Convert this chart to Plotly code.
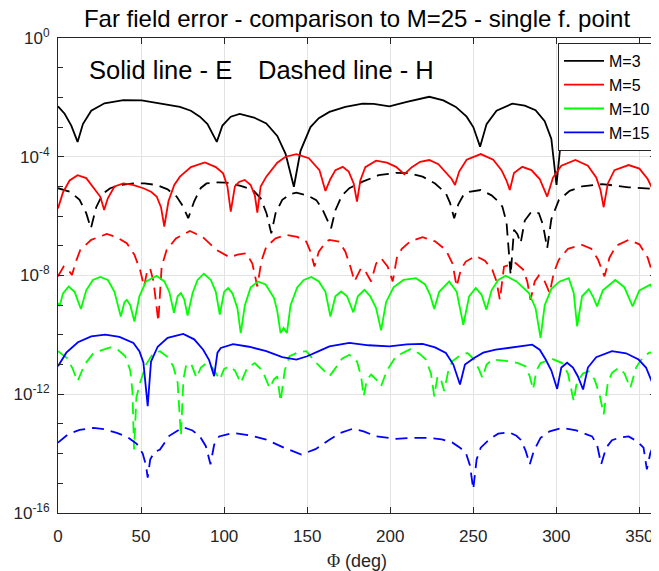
import plotly.graph_objects as go

# ---------------- data (y stored as log10 exponents) ----------------
phi_m3_E = [0, 4, 8, 11.8, 15, 20, 28, 39.4, 50.4, 62, 73.4, 80, 85.4, 90, 95.6, 99, 104, 109.4, 118, 125.4,
            132, 137, 142, 146, 152, 157, 163.4, 173, 183.4, 190, 199.5, 210, 223.5, 232, 239.5, 246, 250, 254.1,
            258, 264, 273.5, 281, 287.5, 293, 297, 300.1, 303, 310, 320, 335, 350, 360]
exp_m3_E = [-2.30, -2.55, -2.95, -3.50, -2.90, -2.45, -2.20, -2.09, -2.10, -2.20, -2.32, -2.45, -2.65, -2.90,
            -3.50, -2.95, -2.65, -2.56, -2.68, -2.88, -3.30, -3.90, -5.01, -3.80, -3.00, -2.70, -2.49, -2.32,
            -2.21, -2.22, -2.30, -2.15, -1.98, -2.10, -2.32, -2.65, -3.00, -3.66, -2.90, -2.45, -2.21, -2.28,
            -2.43, -2.80, -3.40, -4.95, -3.30, -2.60, -2.35, -2.25, -2.30, -2.35]

phi_m3_H = [0, 7.4, 13, 17, 19.8, 23, 27, 31.4, 38, 45.4, 52, 59.4, 66, 71.4, 75, 78.4, 82, 86, 89.4, 95,
            101.4, 110, 117.4, 122, 125.5, 128.4, 131, 135, 140, 143.5, 150, 155.5, 159, 162.4, 164.4, 167, 171,
            175.4, 183.4, 193, 203.5, 211, 219.5, 227, 233.5, 236, 238.5, 241, 244, 247.5, 254.5, 261, 265,
            267.5, 270, 272.5, 274.5, 276.5, 278.5, 281, 285, 289.5, 292, 294.5, 297, 301.5, 308, 315.5, 327.5,
            335, 343.5, 360]
exp_m3_H = [-5.06, -5.18, -5.45, -5.90, -6.41, -5.70, -5.25, -5.06, -4.95, -4.90, -4.90, -4.95, -5.10, -5.34,
            -5.65, -6.07, -5.50, -5.05, -4.90, -4.86, -4.87, -4.98, -5.12, -5.40, -5.90, -6.58, -5.90, -5.45,
            -5.25, -5.21, -5.30, -5.46, -5.75, -6.18, -6.41, -5.80, -5.30, -5.06, -4.84, -4.62, -4.54, -4.55,
            -4.67, -4.90, -5.23, -5.55, -6.07, -5.60, -5.30, -5.18, -5.12, -5.30, -5.50, -5.68, -6.20, -7.98,
            -6.46, -6.60, -6.91, -6.15, -5.85, -5.90, -6.30, -7.08, -6.10, -5.46, -5.15, -5.00, -4.92, -4.97,
            -5.03, -5.09]

phi_m5_E = [0, 3, 7, 11.8, 17, 22, 25.5, 27.8, 30, 34, 39.4, 45, 51.4, 56, 59.4, 62, 64, 66.5, 70, 73.4, 80,
            88.4, 95, 99.4, 102, 104, 106.5, 109, 112.4, 116, 118.5, 120, 122, 125.4, 132, 137, 143.5, 151,
            157.4, 161, 164, 167, 171.4, 175, 178, 180, 182, 185, 191.5, 198, 203.5, 208.5, 213, 218, 223.5,
            229, 234, 237, 239, 241.5, 246, 254.5, 262, 267, 270, 272, 274.5, 279.5, 285, 290, 294.5, 298, 303,
            311.5, 319, 324, 326.5, 328.5, 331, 335, 343.5, 350, 355, 358, 360]
exp_m5_E = [-5.74, -5.20, -4.80, -4.62, -4.72, -5.10, -5.35, -5.79, -5.40, -5.00, -4.90, -4.95, -5.06, -5.18,
            -5.34, -5.70, -6.35, -5.50, -4.95, -4.67, -4.35, -4.19, -4.35, -4.56, -5.00, -5.85, -5.00, -4.85,
            -4.78, -4.95, -5.30, -5.88, -5.00, -4.67, -4.20, -4.00, -3.91, -4.05, -4.45, -5.15, -4.75, -4.45,
            -4.34, -4.50, -4.90, -5.51, -4.80, -4.35, -4.13, -4.20, -4.34, -4.59, -4.35, -4.17, -4.11, -4.25,
            -4.55, -4.75, -4.95, -4.50, -4.10, -3.91, -4.10, -4.45, -4.80, -5.12, -4.55, -4.34, -4.45, -4.75,
            -5.34, -4.70, -4.30, -4.11, -4.30, -4.70, -5.10, -5.70, -4.90, -4.45, -4.28, -4.40, -4.75, -5.10,
            -5.68]

phi_m5_H = [0, 3.4, 6, 8.4, 11, 13.4, 20, 29.4, 35, 41.4, 46, 49.4, 51.8, 53.5, 55.4, 57.5, 60.4, 62.4, 65.4,
            71, 79.4, 87, 95.4, 103.4, 108, 113.4, 117, 120, 122.5, 125.4, 131, 137.5, 144, 149.5, 152, 154.4,
            157, 161.4, 163.4, 169.4, 173, 176, 178.5, 182.5, 185.5, 188.5, 191.5, 194.5, 198.5, 201.5, 204,
            207, 212, 219.5, 227, 233.5, 237.5, 240, 242.5, 245.5, 251.5, 257, 261.5, 264, 266, 268.5, 275.5,
            280, 282.5, 284.5, 287, 289.5, 293, 296, 298.5, 301.5, 307, 315.5, 321, 325, 329, 332, 336, 343.5,
            350, 355, 358.5, 360]
exp_m5_H = [-8.03, -7.70, -7.80, -7.98, -7.50, -7.14, -6.80, -6.60, -6.70, -6.91, -7.30, -7.81, -8.37, -7.90,
            -7.75, -8.20, -9.55, -7.70, -7.14, -6.75, -6.50, -6.70, -7.14, -7.39, -7.30, -7.25, -7.60, -8.37,
            -7.50, -7.03, -6.75, -6.63, -6.70, -6.86, -7.20, -7.70, -7.20, -6.86, -6.80, -6.86, -7.20, -7.70,
            -8.20, -7.75, -7.90, -8.20, -7.60, -7.42, -7.70, -8.20, -7.40, -7.10, -6.85, -6.71, -6.85, -7.14,
            -7.60, -8.37, -7.80, -7.53, -7.34, -7.50, -7.81, -8.20, -8.82, -7.70, -7.58, -7.80, -8.20, -8.82,
            -8.20, -8.00, -8.20, -8.59, -7.90, -7.47, -7.10, -6.97, -7.10, -7.45, -8.03, -7.40, -7.00, -6.80,
            -6.95, -7.40, -8.03, -7.70]

phi_m10_E = [0, 1, 3, 6.4, 10, 13.8, 17, 21, 25.4, 30, 34, 37.8, 40, 41.4, 43.5, 46, 49, 53, 59.4, 64, 67,
             69.8, 72, 74, 76, 78, 81, 84, 87.8, 92, 95, 97.4, 100, 102.4, 105, 108, 110, 112.5, 116, 120.4, 125,
             130, 132, 134, 135.8, 137.8, 140, 144, 148, 152.5, 157, 161, 164, 167, 170.5, 174, 177.8, 180.5,
             184.5, 188, 191.5, 194.5, 197.5, 202, 208, 215.5, 221, 224, 226.5, 229.5, 235.5, 240, 244, 247.5,
             251.5, 255, 257.9, 261, 265, 269.5, 276, 283.5, 287.5, 290.5, 293, 297, 302, 307.5, 310.5, 312.5,
             315.5, 319.5, 322, 324.5, 328, 335.5, 341, 345.9, 350, 356.5, 360]
exp_m10_E = [-8.93, -9.03, -8.60, -8.37, -8.55, -9.13, -8.50, -8.15, -8.05, -8.15, -8.55, -9.38, -8.90, -8.82,
             -9.00, -9.55, -8.70, -8.20, -8.01, -8.20, -8.55, -9.26, -8.70, -8.59, -8.80, -9.35, -8.60, -8.15,
             -7.94, -8.15, -8.55, -9.32, -8.55, -8.42, -8.60, -9.10, -9.94, -9.00, -8.40, -8.20, -8.30, -8.75,
             -9.20, -9.94, -9.77, -9.94, -9.00, -8.40, -8.15, -8.05, -8.20, -8.55, -9.38, -8.70, -8.54, -8.70,
             -9.24, -8.70, -8.48, -8.70, -9.10, -9.85, -8.90, -8.40, -8.15, -8.09, -8.30, -8.65, -9.13, -8.55,
             -8.20, -8.55, -9.66, -8.70, -8.42, -8.65, -9.15, -8.50, -8.15, -8.01, -8.20, -8.59, -9.10, -10.10,
             -9.00, -8.45, -8.20, -8.09, -8.60, -9.71, -8.70, -8.46, -8.70, -9.04, -8.50, -8.15, -8.40, -9.04,
             -8.50, -8.31, -8.59]

phi_m10_H = [0, 5.4, 8.5, 11.8, 16, 21.4, 31.4, 36, 40.4, 43.5, 44.8, 45.8, 47.2, 49.4, 53, 57.4, 61.4, 66,
             69.4, 72, 74, 75.5, 77, 80, 83.4, 86, 89.4, 93, 97.4, 100, 103.4, 106.5, 110, 114, 118.4, 123,
             127.4, 130, 132, 134, 136.5, 139.4, 144, 149.5, 155.5, 160, 163.4, 166.4, 171, 175.4, 180, 182.5,
             184, 186, 188.5, 191.5, 194.5, 198, 203.5, 212.5, 218, 221.5, 224.5, 226.5, 228.5, 230.5, 232.5,
             235, 237.5, 242, 246.5, 250, 253.5, 255.5, 258, 261.5, 266, 271.5, 277, 281.5, 284, 286, 288, 290.5,
             297.5, 303.5, 307, 309, 310.5, 312, 313.5, 316, 319.5, 323, 326, 328.5, 331, 333.5, 337.5, 341,
             344.5, 348, 352.5, 356, 360]
exp_m10_H = [-10.55, -10.78, -11.10, -11.56, -11.00, -10.61, -10.42, -10.50, -10.71, -11.20, -11.90, -13.86,
             -12.10, -11.62, -11.00, -10.61, -10.55, -10.75, -11.06, -11.60, -13.41, -11.50, -11.06, -10.95,
             -11.45, -11.10, -10.95, -11.10, -11.51, -11.15, -11.06, -11.20, -11.62, -11.10, -10.95, -11.20,
             -11.79, -11.50, -11.40, -12.24, -11.20, -10.72, -10.60, -10.55, -10.95, -11.20, -11.39, -11.17,
             -10.80, -10.67, -10.90, -11.40, -12.07, -11.50, -11.34, -11.50, -11.73, -11.20, -10.72, -10.47,
             -10.65, -10.83, -11.30, -12.07, -11.39, -11.50, -11.89, -11.20, -10.88, -10.70, -10.61, -10.80,
             -11.17, -11.45, -11.00, -10.83, -10.85, -10.89, -10.95, -11.06, -11.40, -11.84, -11.20, -10.95,
             -10.81, -10.95, -11.30, -11.80, -12.24, -11.70, -11.51, -11.30, -11.23, -11.50, -12.00, -12.68,
             -11.60, -11.28, -11.11, -11.30, -11.79, -11.10, -10.72, -10.60, -10.55]

phi_m15_E = [0, 5, 12, 20, 28.4, 37, 45.4, 49, 51.4, 54, 56, 60, 66, 75.4, 82, 87.4, 91, 94, 96, 98, 105.4,
             115, 125.4, 135, 143.5, 150, 157, 163.4, 175.4, 187, 199.5, 210, 219.5, 227, 233.5, 238, 242, 245,
             250.5, 256, 263.5, 275, 285.5, 290, 293.5, 297, 300.5, 303, 306.5, 310, 313, 316.1, 319, 324,
             333.5, 342, 349.5, 354, 358.5, 360]
exp_m15_E = [-11.06, -10.60, -10.25, -10.05, -9.99, -10.07, -10.27, -10.55, -10.93, -12.40, -10.90, -10.40,
             -10.10, -9.97, -10.15, -10.50, -10.85, -11.39, -10.60, -10.44, -10.31, -10.40, -10.55, -10.75,
             -10.83, -10.72, -10.55, -10.39, -10.27, -10.35, -10.39, -10.32, -10.30, -10.42, -10.61, -11.00,
             -11.67, -11.00, -10.78, -10.60, -10.50, -10.42, -10.33, -10.50, -10.82, -11.20, -11.82, -11.10,
             -10.94, -11.10, -11.40, -11.84, -11.10, -10.75, -10.55, -10.62, -10.83, -11.10, -11.71, -11.10]

phi_m15_H = [0, 6, 13, 21.4, 28, 35.4, 42, 47.4, 51, 53, 54, 55.5, 58, 61.4, 67, 75.4, 81, 85.4, 89, 91.8, 94,
             97, 105.4, 115, 125.4, 136, 146.5, 155, 163.4, 170, 177.5, 184, 191.5, 203.5, 213, 223.5, 231,
             237.5, 242, 245.5, 248, 250, 252, 254.5, 260, 265, 271.5, 276, 278.5, 281.5, 284, 286.5, 290.5,
             296, 303.5, 312, 321.5, 324.5, 327, 330, 333.5, 337.5, 343.5, 349, 352.5, 354.5, 356.5, 358.5, 360]
exp_m15_H = [-13.63, -13.35, -13.20, -13.13, -13.18, -13.30, -13.45, -13.67, -14.00, -14.40, -14.81, -14.20,
             -13.95, -13.86, -13.40, -13.11, -13.22, -13.42, -13.75, -14.36, -13.70, -13.42, -13.30, -13.38,
             -13.53, -13.80, -14.03, -13.85, -13.53, -13.30, -13.16, -13.25, -13.42, -13.50, -13.47, -13.47,
             -13.52, -13.63, -13.80, -13.97, -14.40, -15.20, -14.20, -13.80, -13.50, -13.33, -13.28, -13.40,
             -13.53, -13.90, -14.36, -13.90, -13.47, -13.25, -13.13, -13.22, -13.42, -13.70, -14.36, -13.80,
             -13.55, -13.47, -13.42, -13.60, -13.80, -14.53, -14.00, -13.70, -13.50]

series_names = ["M=3", "M=5", "M=10", "M=15"]
series_colors = ["#000000", "#ff0000", "#00ff00", "#0000ff"]
x_tick_vals = [0, 50, 100, 150, 200, 250, 300, 350]
y_major_exps = [-16, -12, -8, -4, 0]
y_minor_exps = list(range(-16, 1))

E_data = [(phi_m3_E, exp_m3_E), (phi_m5_E, exp_m5_E), (phi_m10_E, exp_m10_E), (phi_m15_E, exp_m15_E)]
H_data = [(phi_m3_H, exp_m3_H), (phi_m5_H, exp_m5_H), (phi_m10_H, exp_m10_H), (phi_m15_H, exp_m15_H)]

# ---------------- figure ----------------
OFF = 8                      # page body margin of the html page
W, H = 659 - OFF, 571 - OFF  # figure size so it fits the window
# plot area in page pixels: left 58, right 656, top 38, bottom 513
ML, MR, MT, MB = 58 - OFF, (W + OFF) - 656, 38 - OFF, (H + OFF) - 513
fig = go.Figure()

for (px, ex), name, col in zip(H_data, series_names, series_colors):
    fig.add_trace(go.Scatter(x=px, y=[10 ** v for v in ex], mode="lines", name=name, showlegend=False,
                             line=dict(color=col, width=1.8, dash="12px,7px"), hoverinfo="skip"))
for (px, ex), name, col in zip(E_data, series_names, series_colors):
    fig.add_trace(go.Scatter(x=px, y=[10 ** v for v in ex], mode="lines", name=name,
                             line=dict(color=col, width=1.8), hoverinfo="skip"))

axis_col = "#262626"
font_fam = "Liberation Sans, Arial, Helvetica, sans-serif"


def py_to_paper(page_py):
    return (H - MB - (page_py - OFF)) / (H - MT - MB)


def px_to_paper(page_px):
    return ((page_px - OFF) - ML) / (W - ML - MR)


fig.update_layout(
    width=W, height=H,
    margin=dict(l=ML, r=MR, t=MT, b=MB, pad=0),
    paper_bgcolor="#ffffff",
    plot_bgcolor="#ffffff",
    font=dict(family=font_fam, size=17, color=axis_col),
    title=dict(text="Far field error - comparison to M=25 - single f. point",
               x=0.5, xref="paper", y=1 - 2 / H, yref="container", yanchor="top", pad=dict(t=0),
               xanchor="center", font=dict(size=24, color="#000000", family=font_fam)),
    showlegend=True,
    legend=dict(x=1, xanchor="right", y=py_to_paper(43), yanchor="top",
                bgcolor="#ffffff", bordercolor=axis_col, borderwidth=1,
                font=dict(size=16, color="#000000", family=font_fam),
                tracegroupgap=0, itemwidth=40),
    annotations=[
        dict(text="Solid line - E", xref="paper", yref="paper", x=px_to_paper(87), y=py_to_paper(70),
             xanchor="left", yanchor="middle", showarrow=False,
             font=dict(size=25.5, color="#000000", family=font_fam)),
        dict(text="Dashed line - H", xref="paper", yref="paper", x=px_to_paper(256), y=py_to_paper(70),
             xanchor="left", yanchor="middle", showarrow=False,
             font=dict(size=25.5, color="#000000", family=font_fam)),
    ],
)

fig.update_xaxes(
    range=[0, 360], tickmode="array", tickvals=x_tick_vals, ticks="inside", ticklen=6, tickcolor=axis_col,
    showline=True, linecolor=axis_col, linewidth=1, mirror="allticks",
    showgrid=True, gridcolor="#e3e3e3", gridwidth=1, zeroline=False,
    tickfont=dict(size=17, color=axis_col), ticklabelstandoff=8,
    title=dict(text="<span style=\"font-family:'Liberation Serif'\">Φ</span> (deg)",
               font=dict(size=18, color=axis_col), standoff=9),
)
fig.update_yaxes(
    type="log", range=[-16, 0], tickmode="array",
    tickvals=[10.0 ** e for e in y_major_exps],
    ticktext=["10<sup>%d</sup>" % e for e in y_major_exps],
    ticks="inside", ticklen=6, tickcolor=axis_col,
    minor=dict(tickmode="array", tickvals=[10.0 ** e for e in y_minor_exps], ticks="inside", ticklen=5,
               tickcolor=axis_col, showgrid=False),
    showline=True, linecolor=axis_col, linewidth=1, mirror="allticks",
    showgrid=True, gridcolor="#e3e3e3", gridwidth=1, zeroline=False,
    tickfont=dict(size=17, color=axis_col), ticklabelstandoff=4,
)

fig.write_html("out.html")
